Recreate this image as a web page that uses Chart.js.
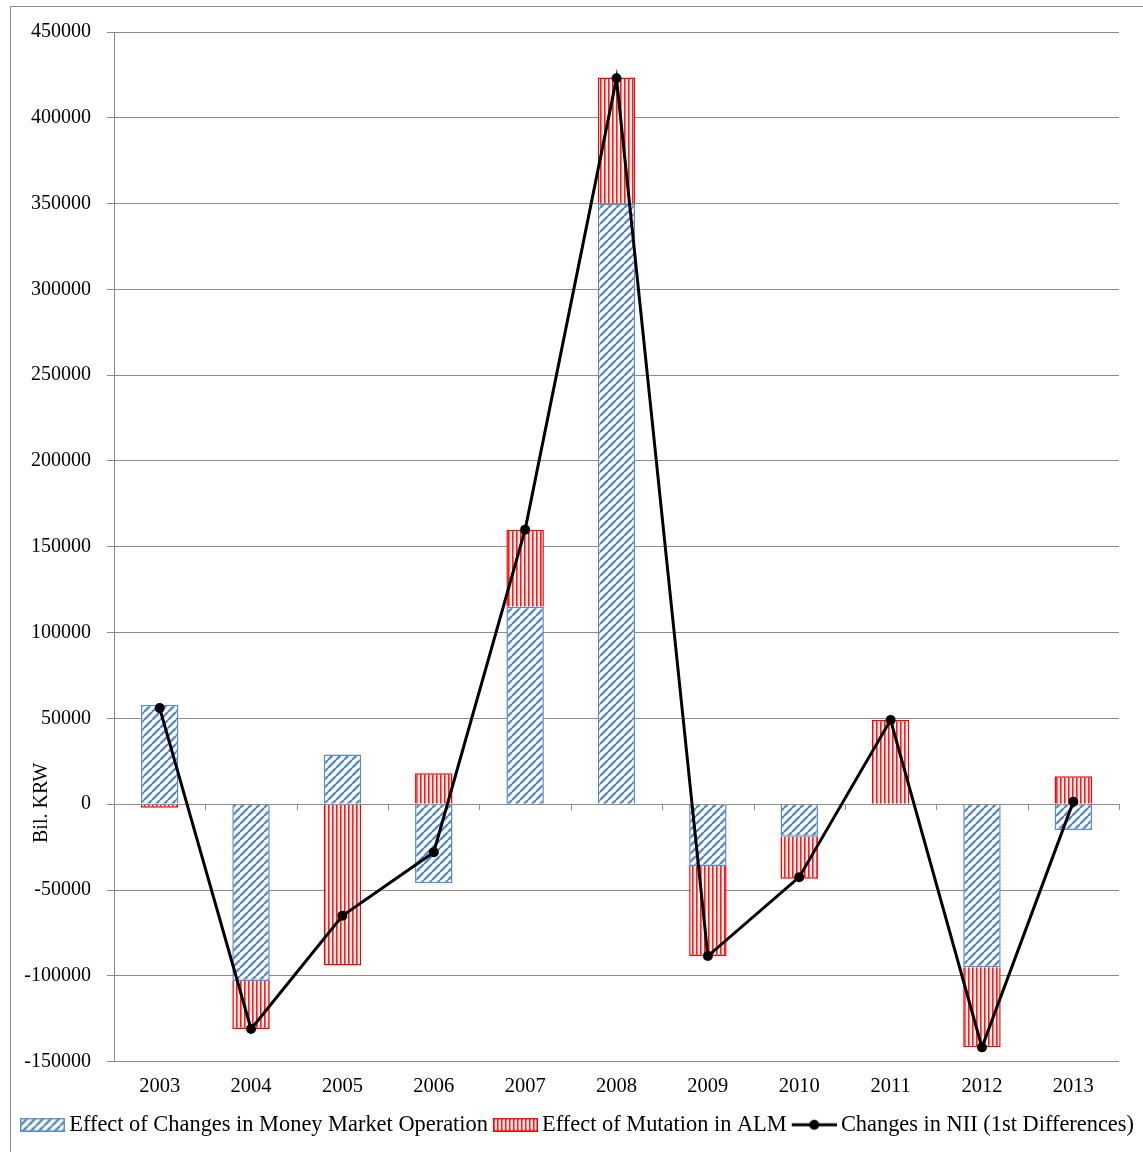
<!DOCTYPE html>
<html>
<head>
<meta charset="utf-8">
<script src="https://cdn.jsdelivr.net/npm/chart.js@4.4.0/dist/chart.umd.min.js"></script>
<style>
    html, body { margin: 0; padding: 0; background: #fff; }
    .wrap { position: relative; width: 1143px; height: 1152px; }
    .frame { position: absolute; left: 10px; top: 6px; width: 1140px; height: 1145px; border: 1px solid #8c8c8c; pointer-events: none; }
    canvas { position: absolute; left: 0; top: 0; }
</style>
</head>
<body>
<div class="wrap">
    <canvas id="nii" width="1143" height="1152"></canvas>
    <div class="frame"></div>
</div>
<script>
// data (Bil. KRW)
const years = ["2003", "2004", "2005", "2006", "2007", "2008", "2009", "2010", "2011", "2012", "2013"];
const moneyMarket = [58000, -103000, 29000, -46000, 115000, 350000, -36000, -19000, 0, -95000, -15000];
const almEffect = [-2000, -28000, -94000, 18000, 45000, 73500, -52500, -24500, 49000, -46700, 16300];
const niiChanges = [56000, -131000, -65000, -28000, 160000, 423000, -88500, -42500, 49000, -141700, 1500];
const yTicks = { min: -150000, max: 450000, step: 50000 };

const serif = "'Liberation Serif', 'Times New Roman', serif";
const gridGray = "#8c8c8c";

// hatch fills
function diagPattern() {
    const c = document.createElement("canvas");
    c.width = 8; c.height = 8;
    const g = c.getContext("2d");
    g.fillStyle = "#ffffff";
    g.fillRect(0, 0, 8, 8);
    g.strokeStyle = "#5b8bcb";
    g.lineWidth = 2.4;
    g.beginPath();
    for (let k = -8; k <= 16; k += 8) {
        g.moveTo(k, 8);
        g.lineTo(k + 8, 0);
    }
    g.stroke();
    return g.createPattern(c, "repeat");
}

function vertPattern() {
    const c = document.createElement("canvas");
    c.width = 4; c.height = 4;
    const g = c.getContext("2d");
    g.fillStyle = "#fff0f0";
    g.fillRect(0, 0, 4, 4);
    g.fillStyle = "#ff1a1a";
    g.fillRect(0, 0, 1.6, 4);
    return g.createPattern(c, "repeat");
}

const bluePat = diagPattern();
const redPat = vertPattern();

// legend icons: 45px glyph, drawn off-centre inside a 51px canvas so the text sits close
function iconCanvas() {
    const c = document.createElement("canvas");
    c.width = 51; c.height = 14;
    return c;
}

function boxIcon(fill, stroke) {
    const c = iconCanvas();
    const g = c.getContext("2d");
    g.translate(6, 0);
    g.fillStyle = fill;
    g.fillRect(0, 0, 45, 14);
    g.strokeStyle = stroke;
    g.lineWidth = 1.5;
    g.strokeRect(0.75, 0.75, 43.5, 12.5);
    return c;
}

function lineIcon() {
    const c = iconCanvas();
    const g = c.getContext("2d");
    g.translate(6, 0);
    g.strokeStyle = "#000";
    g.lineWidth = 3;
    g.beginPath();
    g.moveTo(0, 7);
    g.lineTo(45, 7);
    g.stroke();
    g.fillStyle = "#000";
    g.beginPath();
    g.arc(22.5, 7, 5, 0, Math.PI * 2);
    g.fill();
    return c;
}

const icons = [boxIcon(bluePat, "#5b8bcb"), boxIcon(redPat, "#ff0000"), lineIcon()];

// small tick marks along the zero line + rotated axis title
const extras = {
    id: "extras",
    afterDatasetsDraw(chart) {
        const ctx = chart.ctx;
        const x = chart.scales.x;
        const y0 = chart.scales.y.getPixelForValue(0);
        ctx.save();
        ctx.strokeStyle = gridGray;
        ctx.lineWidth = 1;
        for (let i = 0; i < years.length; i++) {
            const px = Math.round(x.getPixelForValue(i) + (x.getPixelForValue(1) - x.getPixelForValue(0)) / 2) + 0.5;
            ctx.beginPath();
            ctx.moveTo(px, y0);
            ctx.lineTo(px, y0 + 6);
            ctx.stroke();
        }
        ctx.restore();
    },
    afterDraw(chart) {
        const ctx = chart.ctx;
        ctx.save();
        ctx.translate(42, 803);
        ctx.rotate(-Math.PI / 2);
        ctx.fillStyle = "#000";
        ctx.font = "20px " + serif;
        ctx.textAlign = "center";
        ctx.textBaseline = "middle";
        ctx.fillText("Bil. KRW", 0, 0);
        ctx.restore();
    }
};

new Chart(document.getElementById("nii").getContext("2d"), {
    type: "bar",
    data: {
        labels: years,
        datasets: [
            {
                label: "Effect of Changes in Money Market Operation",
                data: moneyMarket,
                backgroundColor: bluePat,
                borderColor: "#5b8bcb",
                borderWidth: 1.5,
                stack: "bars",
                order: 1
            },
            {
                label: "Effect of Mutation in ALM",
                data: almEffect,
                backgroundColor: redPat,
                borderColor: "#ff0000",
                borderWidth: 1.5,
                stack: "bars",
                order: 1
            },
            {
                type: "line",
                label: "Changes in NII (1st Differences)",
                data: niiChanges,
                borderColor: "#000",
                backgroundColor: "#000",
                borderWidth: 3,
                pointRadius: 5,
                pointBackgroundColor: "#000",
                pointBorderWidth: 0,
                tension: 0,
                stack: "line",
                order: 0
            }
        ]
    },
    options: {
        responsive: false,
        animation: false,
        datasets: { bar: { barPercentage: 0.41, categoryPercentage: 1 } },
        layout: { padding: { left: 12, right: 0, top: 32, bottom: 6 } },
        scales: {
            x: {
                stacked: true,
                grid: { display: false },
                border: { display: false },
                ticks: { color: "#000", font: { family: serif, size: 20.5 }, padding: 5, maxRotation: 0 },
                afterFit: (s) => { s.height = 46; }
            },
            y: {
                stacked: true,
                min: yTicks.min,
                max: yTicks.max,
                grid: { color: gridGray, lineWidth: 1, tickLength: 7 },
                border: { display: true, color: gridGray, width: 1 },
                ticks: {
                    stepSize: yTicks.step,
                    color: "#000",
                    font: { family: serif, size: 20 },
                    padding: 16,
                    callback: (v) => String(v)
                },
                afterFit: (s) => { s.width = 102; }
            },
            // empty right-hand spacer so the plot ends where the reference's does
            spacer: {
                type: "linear",
                position: "right",
                grid: { display: false },
                border: { display: false },
                ticks: { display: false },
                afterFit: (s) => { s.width = 24; }
            }
        },
        plugins: {
            tooltip: { enabled: false },
            legend: {
                position: "bottom",
                labels: {
                    color: "#000",
                    font: { family: serif, size: 22.4 },
                    usePointStyle: true,
                    pointStyleWidth: 37,
                    boxHeight: 14,
                    padding: 6,
                    generateLabels: (chart) => chart.data.datasets.map((ds, i) => ({
                        text: ds.label,
                        pointStyle: icons[i],
                        fillStyle: "#000",
                        strokeStyle: "#000",
                        lineWidth: 0,
                        hidden: false,
                        datasetIndex: i,
                        fontColor: "#000"
                    }))
                }
            }
        }
    },
    plugins: [extras]
});
</script>
</body>
</html>
